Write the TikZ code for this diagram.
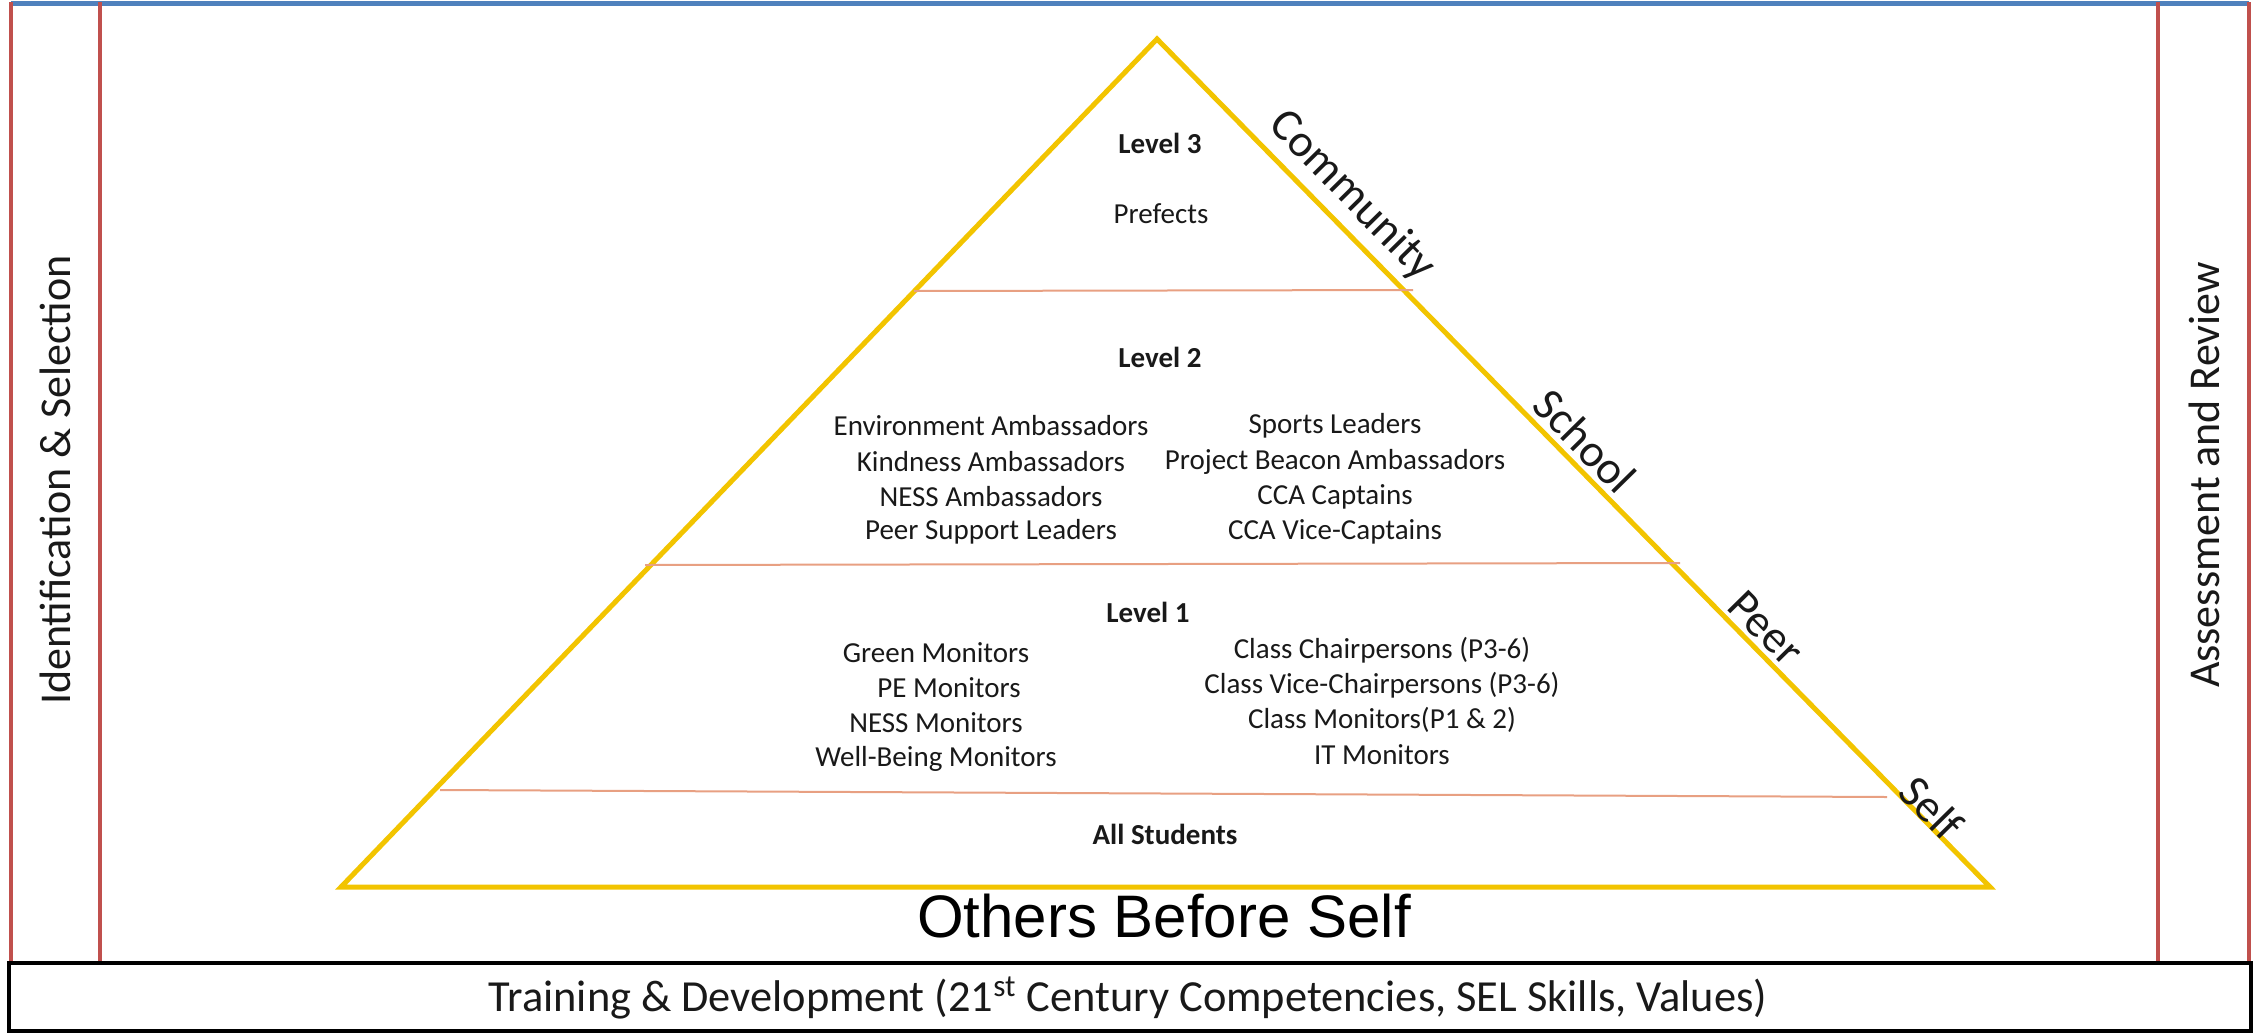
\documentclass[tikz,border=0pt]{standalone}
\usepackage{fontspec}
\setmainfont{Carlito}
\newfontfamily\arialf{Liberation Sans}
\definecolor{pyr}{RGB}{242,196,0}
\definecolor{frred}{RGB}{192,80,77}
\definecolor{frblue}{RGB}{79,129,189}
\definecolor{lvlline}{RGB}{232,160,130}
\definecolor{txt}{RGB}{25,25,25}
\begin{document}
\begin{tikzpicture}[x=0.5pt,y=-0.5pt,
  body/.style={font=\fontsize{14.5}{17}\selectfont, inner sep=0pt, text=txt},
  lvl/.style={font=\fontsize{14.5}{17}\selectfont\bfseries, inner sep=0pt, text=txt},
  edgelbl/.style={font=\fontsize{23}{28}\selectfont, inner sep=0pt, rotate=-45.5, text=txt},
  sidelbl/.style={font=\fontsize{22}{26}\selectfont, inner sep=0pt, rotate=90, text=txt},
  pyrline/.style={draw=pyr, line width=2.5pt, line join=miter},
  lvlsep/.style={draw=lvlline, line width=1pt},
  redline/.style={draw=frred, line width=2pt},
]
\useasboundingbox (0,0) rectangle (2259,1034);
% frame
\coordinate (tl) at (11,3);
\coordinate (tr) at (2249,3);
\draw[draw=frblue, line width=2.5pt] (tl) -- (tr);
\draw[redline] (11,2) -- (11,962);
\draw[redline] (100,2) -- (100,962);
\draw[redline] (2158,2) -- (2158,962);
\draw[redline] (2249,2) -- (2249,962);
\node[draw=black, line width=2pt, fill=white, minimum width=1121pt, minimum height=34pt, inner sep=0pt] (bottombox) at (1130,997) {};
\node[font=\fontsize{22.2}{26}\selectfont, inner sep=0pt, text=txt] (training) at (1128,998)
  {Training \& Development (21\textsuperscript{st} Century Competencies, SEL Skills, Values)};
% side labels
\node[sidelbl] (idsel) at (55,480) {Identification \& Selection};
\node[sidelbl] (assrev) at (2204,475) {Assessment and Review};
% pyramid
\coordinate (apex) at (1157,39);
\coordinate (bl) at (341,887);
\coordinate (br) at (1990,887);
\draw[pyrline] (apex) -- (bl) -- (br) -- cycle;
\draw[lvlsep] (914,291) -- (1413,290);
\draw[lvlsep] (645,565) -- (1680,563);
\draw[lvlsep] (440,790) -- (1887,797);
% edge labels
\node[edgelbl] (community) at (1352,196) {Community};
\node[edgelbl] (school) at (1585,441) {School};
\node[edgelbl] (peer) at (1766,628) {Peer};
\node[edgelbl] (self) at (1932,808) {Self};
% level 3
\node[lvl] (l3) at (1160,143) {Level 3};
\node[body] (prefects) at (1161,214) {Prefects};
% level 2
\node[lvl] (l2) at (1160,357) {Level 2};
\node[body] (l2a) at (991,426) {Environment Ambassadors};
\node[body] (l2b) at (991,462) {Kindness Ambassadors};
\node[body] (l2c) at (991,497) {NESS Ambassadors};
\node[body] (l2d) at (991,532) {Peer Support Leaders};
\node[body] (l2e) at (1335,426) {Sports Leaders};
\node[body] (l2f) at (1335,462) {Project Beacon Ambassadors};
\node[body] (l2g) at (1335,497) {CCA Captains};
\node[body] (l2h) at (1335,532) {CCA Vice-Captains};
% level 1
\node[lvl] (l1) at (1148,612) {Level 1};
\node[body] (l1a) at (936,653) {Green Monitors};
\node[body] (l1b) at (949,688) {PE Monitors};
\node[body] (l1c) at (936,723) {NESS Monitors};
\node[body] (l1d) at (936,759) {Well-Being Monitors};
\node[body] (l1e) at (1382,650) {Class Chairpersons (P3-6)};
\node[body] (l1f) at (1382,685) {Class Vice-Chairpersons (P3-6)};
\node[body] (l1g) at (1382,720) {Class Monitors(P1 \& 2)};
\node[body] (l1h) at (1382,755) {IT Monitors};
% base
\node[lvl] (all) at (1165,834) {All Students};
\node[font=\arialf\fontsize{30}{34}\selectfont, inner sep=0pt, text=black] (obs) at (1164,916) {Others Before Self};
\end{tikzpicture}
\end{document}
